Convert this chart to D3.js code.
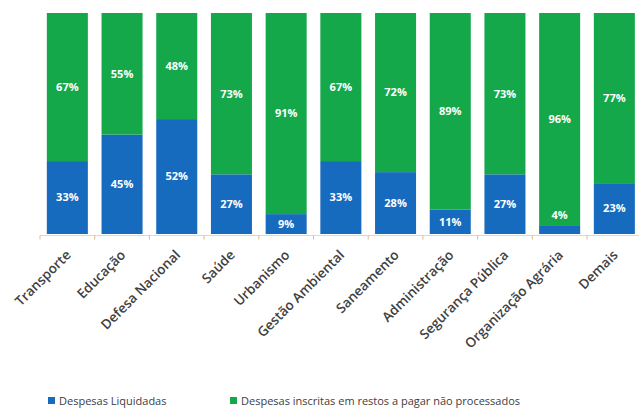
<!DOCTYPE html>
<html>
<head>
<meta charset="utf-8">
<script src="https://cdn.jsdelivr.net/npm/d3@7"></script>
<style>
  body { margin: 0; background: #fff; }
  svg { display: block; font-family: "Open Sans", sans-serif; }
</style>
</head>
<body>
<div id="chart"></div>
<script>
// Data
const categories = [
  "Transporte", "Educação", "Defesa Nacional", "Saúde", "Urbanismo",
  "Gestão Ambiental", "Saneamento", "Administração", "Segurança Pública",
  "Organização Agrária", "Demais"
];
const liquidadas = [33, 45, 52, 27, 9, 33, 28, 11, 27, 4, 23];
const inscritas = [67, 55, 48, 73, 91, 67, 72, 89, 73, 96, 77];
const seriesNames = [
  "Despesas Liquidadas",
  "Despesas inscritas em restos a pagar não processados"
];

const width = 639, height = 410;
const margin = { top: 13, left: 40, bottom: 234 };
const blue = "#176bbe", green = "#14a84b";

const svg = d3.select("#chart").append("svg")
  .attr("width", width).attr("height", height);

const x = d3.scaleBand()
  .domain(categories)
  .range([margin.left, 641.7])
  .paddingInner(0.25)
  .paddingOuter(0.125);

const y = d3.scaleLinear().domain([0, 100]).range([margin.bottom, margin.top]);

const data = categories.map((c, i) => ({ cat: c, liq: liquidadas[i], ins: inscritas[i] }));

// Stacked bars
const g = svg.append("g");
g.selectAll("rect.liq").data(data).enter().append("rect")
  .attr("class", "liq")
  .attr("x", d => x(d.cat))
  .attr("width", x.bandwidth())
  .attr("y", d => y(d.liq))
  .attr("height", d => y(0) - y(d.liq))
  .attr("fill", blue);

g.selectAll("rect.ins").data(data).enter().append("rect")
  .attr("class", "ins")
  .attr("x", d => x(d.cat))
  .attr("width", x.bandwidth())
  .attr("y", d => y(d.liq + d.ins))
  .attr("height", d => y(d.liq) - y(d.liq + d.ins))
  .attr("fill", green);

// Value labels (a label that does not fit in its segment sits just above it)
g.selectAll("text.liq").data(data).enter().append("text")
  .attr("x", d => x(d.cat) + x.bandwidth() / 2)
  .attr("y", d => (y(0) - y(d.liq) < 14 && d.liq < 8) ? y(d.liq) - 10 : y(d.liq / 2))
  .attr("dy", "0.35em")
  .attr("text-anchor", "middle")
  .attr("fill", "#fff")
  .style("font-size", "11px")
  .style("font-weight", "bold")
  .text(d => d.liq + "%");

g.selectAll("text.ins").data(data).enter().append("text")
  .attr("x", d => x(d.cat) + x.bandwidth() / 2)
  .attr("y", d => y(d.liq + d.ins / 2))
  .attr("dy", "0.35em")
  .attr("text-anchor", "middle")
  .attr("fill", "#fff")
  .style("font-size", "11px")
  .style("font-weight", "bold")
  .text(d => d.ins + "%");

// X axis
const axis = svg.append("g")
  .attr("transform", `translate(0,${margin.bottom + 1.5})`);
axis.append("line")
  .attr("x1", margin.left).attr("x2", width)
  .attr("stroke", "#d9d9d9");
axis.selectAll("line.tick").data(categories).enter().append("line")
  .attr("x1", d => x(d) - x.step() * 0.125)
  .attr("x2", d => x(d) - x.step() * 0.125)
  .attr("y1", 0).attr("y2", 4)
  .attr("stroke", "#e0b890");

axis.selectAll("text").data(categories).enter().append("text")
  .attr("transform", d => `translate(${x(d) + x.bandwidth() / 2 + 1},17) rotate(-45)`)
  .attr("text-anchor", "end")
  .attr("dy", "0.35em")
  .attr("fill", "#404040")
  .style("font-size", "13.5px")
  .style("font-weight", "600")
  .text(d => d);

// Legend
const legend = svg.append("g").attr("transform", "translate(48,397)");
const legendX = [0, 182];
seriesNames.forEach((name, i) => {
  const item = legend.append("g").attr("transform", `translate(${legendX[i]},0)`);
  item.append("rect").attr("width", 7).attr("height", 7)
    .attr("fill", i === 0 ? blue : green);
  item.append("text").attr("x", 11).attr("y", 4.5).attr("dy", "0.35em")
    .attr("fill", "#404040")
    .style("font-size", "11px")
    .text(name);
});
</script>
</body>
</html>
